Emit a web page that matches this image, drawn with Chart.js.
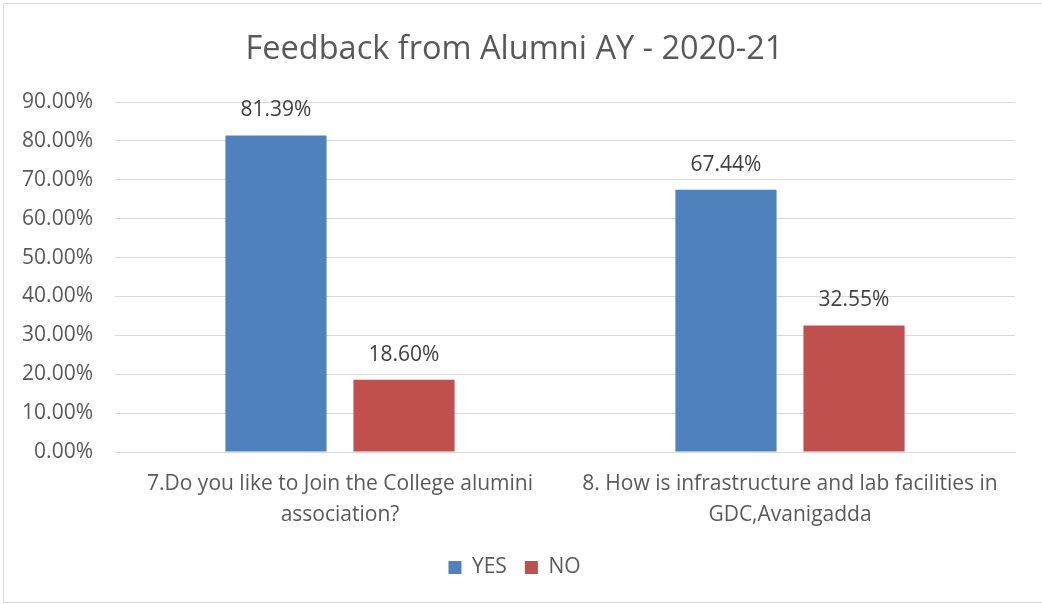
<!DOCTYPE html>
<html lang="en">
<head>
<meta charset="UTF-8">
<title>Feedback from Alumni AY - 2020-21</title>
<script src="https://cdn.jsdelivr.net/npm/chart.js"></script>
<style>
    html, body { margin: 0; padding: 0; background: #ffffff; overflow: hidden; }
    .frame {
        position: absolute;
        left: 3px; top: 3px;
        width: 1042px; height: 600px;
        border: 1px solid #d9d9d9;
        box-sizing: border-box;
    }
    .chart-box {
        position: absolute;
        left: 0; top: 0;
        width: 1042px; height: 604px;
    }
</style>
</head>
<body>
<div class="frame"></div>
<div class="chart-box"><canvas id="alumniChart"></canvas></div>

<script>
    // categories (questions) and series values in percent
    const questions = [
        ['7.Do you like to Join the College alumini', 'association?'],
        ['8. How is infrastructure and lab facilities in', 'GDC,Avanigadda']
    ];
    const yesValues = [81.39, 67.44];
    const noValues = [18.60, 32.55];
    const seriesNames = ['YES', 'NO'];

    const txtColor = '#595959';
    const fontFamily = '"Open Sans", sans-serif';

    // simple plugin to write the value above each bar
    const valueLabels = {
        id: 'valueLabels',
        afterDatasetsDraw(chart) {
            const ctx = chart.ctx;
            ctx.save();
            ctx.font = '21px ' + fontFamily;
            ctx.fillStyle = '#404040';
            ctx.textAlign = 'center';
            ctx.textBaseline = 'middle';
            chart.data.datasets.forEach((ds, i) => {
                chart.getDatasetMeta(i).data.forEach((bar, j) => {
                    ctx.fillText(ds.data[j].toFixed(2) + '%', bar.x, bar.y - 25);
                });
            });
            ctx.restore();
        }
    };

    new Chart(document.getElementById('alumniChart'), {
        type: 'bar',
        data: {
            labels: questions,
            datasets: [
                { label: seriesNames[0], data: yesValues, backgroundColor: '#4f81bd' },
                { label: seriesNames[1], data: noValues, backgroundColor: '#c0504d' }
            ]
        },
        options: {
            responsive: true,
            maintainAspectRatio: false,
            animation: false,
            categoryPercentage: 0.569,
            barPercentage: 0.79,
            layout: { padding: { left: 14, right: 27, top: 12, bottom: 16 } },
            plugins: {
                title: {
                    display: true,
                    text: 'Feedback from Alumni AY - 2020-21',
                    color: txtColor,
                    font: { family: fontFamily, size: 32.5, weight: 'normal' },
                    padding: { top: 18, bottom: 33 }
                },
                legend: {
                    position: 'bottom',
                    labels: {
                        color: txtColor,
                        font: { family: fontFamily, size: 21 },
                        boxWidth: 13,
                        boxHeight: 13,
                        padding: 18
                    }
                },
                tooltip: { enabled: false }
            },
            scales: {
                x: {
                    grid: { display: false },
                    border: { color: '#d9d9d9' },
                    ticks: {
                        color: txtColor,
                        font: { family: fontFamily, size: 21, lineHeight: 1.45 },
                        maxRotation: 0,
                        padding: 9
                    }
                },
                y: {
                    min: 0,
                    max: 90,
                    grid: { color: '#d9d9d9', drawTicks: false },
                    border: { display: false },
                    ticks: {
                        stepSize: 10,
                        color: txtColor,
                        font: { family: fontFamily, size: 21 },
                        padding: 22,
                        callback: v => v.toFixed(2) + '%'
                    },
                    afterFit(scale) { scale.width = 101; }
                }
            }
        },
        plugins: [valueLabels]
    });
</script>
</body>
</html>
